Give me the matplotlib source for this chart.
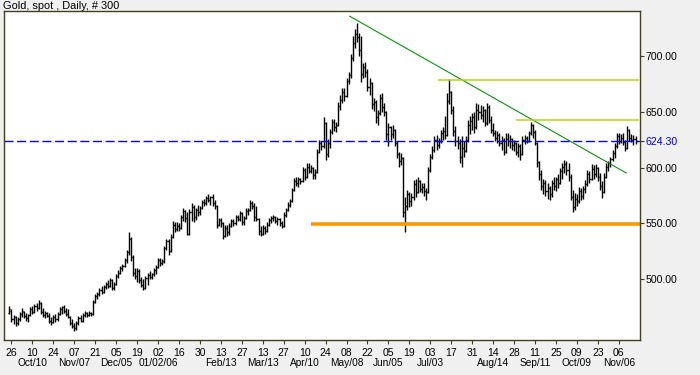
import matplotlib
matplotlib.use('Agg')

import matplotlib.pyplot as plt
import pandas as pd

plt.rcParams['font.family'] = ['Liberation Sans', 'DejaVu Sans']
plt.rcParams['lines.scale_dashes'] = False

title = 'Gold, spot , Daily, # 300'
last_date = '2006-11-16'

# daily OHLC (Sep 2005 - Nov 2006)
opens = [
    470, 472, 464, 466, 461, 464, 469, 471, 467, 465,
    468, 473, 471, 476, 474, 479, 471, 468, 470, 467,
    463, 462, 466, 464, 469, 473, 475, 472, 469, 466,
    461, 458, 456, 461, 465, 463, 468, 470, 468, 470,
    469, 480, 485, 487, 490, 489, 493, 496, 494, 499,
    492, 496, 503, 506, 510, 512, 517, 524, 536, 520,
    506, 503, 507, 499, 495, 492, 501, 504, 502, 505,
    508, 511, 517, 515, 516, 528, 534, 525, 538, 549,
    545, 548, 546, 556, 561, 555, 541, 560, 565, 556,
    562, 560, 564, 569, 568, 573, 571, 574, 568, 566,
    549, 553, 550, 539, 546, 542, 548, 552, 550, 556,
    554, 559, 551, 555, 561, 562, 568, 566, 556, 554,
    543, 541, 546, 543, 549, 553, 555, 556, 552, 554,
    550, 548, 558, 562, 567, 570, 580, 588, 586, 590,
    588, 598, 592, 601, 597, 600, 593, 596, 614, 622,
    619, 640, 612, 622, 632, 641, 636, 638, 655, 661,
    668, 664, 678, 683, 698, 712, 720, 717, 705, 684,
    690, 686, 672, 676, 657, 659, 645, 649, 662, 654,
    650, 630, 636, 630, 634, 622, 612, 606, 609, 560,
    566, 576, 570, 574, 585, 578, 588, 581, 583, 579,
    578, 598, 610, 616, 625, 620, 624, 631, 633, 629,
    660, 668, 652, 633, 624, 622, 610, 618, 615, 625,
    638, 642, 645, 636, 652, 650, 647, 652, 640, 654,
    643, 634, 631, 627, 629, 622, 625, 614, 626, 624,
    626, 620, 622, 614, 619, 612, 625, 627, 624, 631,
    638, 632, 622, 605, 594, 584, 586, 579, 582, 576,
    586, 584, 590, 586, 597, 601, 603, 598, 592, 574,
    565, 572, 570, 579, 575, 581, 585, 594, 590, 599,
    594, 600, 592, 584, 578, 592, 601, 604, 608, 613,
    619, 628, 624, 627, 623, 618, 634, 627, 625, 626,
]
highs = [
    476, 473, 468, 467, 466, 471, 474, 472, 470, 469,
    475, 476, 478, 479, 481, 480, 474, 472, 471, 470,
    466, 468, 469, 471, 475, 476, 477, 474, 473, 467,
    464, 461, 463, 467, 468, 470, 472, 471, 472, 471,
    481, 487, 489, 492, 494, 495, 498, 499, 501, 500,
    498, 505, 508, 512, 514, 519, 526, 542, 538, 522,
    510, 510, 509, 502, 500, 503, 506, 507, 506, 510,
    513, 519, 519, 518, 530, 536, 536, 541, 552, 551,
    551, 550, 558, 564, 562, 560, 563, 568, 567, 564,
    567, 566, 571, 572, 575, 576, 575, 576, 571, 567,
    555, 555, 551, 549, 549, 550, 554, 554, 558, 558,
    561, 560, 557, 564, 564, 571, 570, 568, 566, 555,
    548, 549, 548, 551, 555, 557, 558, 557, 556, 555,
    552, 560, 564, 569, 572, 582, 591, 592, 592, 591,
    601, 600, 604, 604, 602, 601, 599, 617, 625, 624,
    645, 641, 626, 635, 644, 644, 641, 659, 665, 671,
    671, 680, 686, 702, 718, 724, 730, 721, 718, 694,
    695, 688, 680, 677, 662, 661, 652, 666, 667, 658,
    651, 640, 637, 638, 635, 624, 614, 613, 610, 574,
    580, 578, 577, 589, 590, 592, 589, 586, 586, 582,
    601, 612, 619, 628, 629, 627, 634, 636, 646, 667,
    679, 669, 655, 637, 628, 626, 628, 624, 628, 643,
    646, 649, 650, 658, 657, 656, 655, 653, 658, 656,
    646, 640, 634, 633, 631, 628, 627, 631, 631, 629,
    627, 625, 623, 622, 621, 628, 629, 628, 633, 641,
    639, 634, 623, 606, 598, 590, 589, 586, 584, 589,
    592, 592, 594, 600, 604, 607, 606, 604, 594, 580,
    577, 576, 583, 582, 584, 589, 598, 597, 603, 602,
    603, 601, 595, 588, 595, 604, 606, 610, 616, 622,
    631, 631, 630, 631, 625, 637, 635, 630, 629, 628,
]
lows = [
    469, 462, 460, 458, 459, 463, 466, 465, 463, 462,
    467, 469, 470, 472, 473, 469, 466, 465, 466, 461,
    459, 461, 462, 463, 468, 469, 470, 467, 465, 459,
    456, 454, 455, 459, 462, 462, 466, 466, 467, 467,
    468, 479, 482, 485, 487, 488, 491, 492, 493, 490,
    490, 495, 501, 505, 507, 511, 515, 522, 516, 503,
    500, 498, 497, 493, 490, 491, 495, 500, 500, 503,
    505, 510, 512, 513, 515, 526, 522, 524, 537, 542,
    543, 543, 545, 552, 551, 540, 540, 552, 551, 553,
    557, 558, 563, 566, 567, 569, 567, 566, 563, 546,
    548, 547, 536, 538, 539, 540, 547, 548, 549, 552,
    552, 549, 549, 554, 558, 561, 563, 552, 552, 540,
    539, 540, 541, 542, 548, 550, 552, 550, 549, 548,
    546, 547, 556, 561, 565, 569, 579, 584, 583, 585,
    587, 589, 591, 595, 595, 590, 590, 595, 613, 616,
    618, 607, 610, 618, 630, 633, 632, 637, 652, 658,
    660, 663, 675, 680, 696, 707, 713, 700, 677, 680,
    681, 669, 665, 653, 651, 640, 638, 647, 650, 646,
    625, 619, 625, 627, 619, 609, 601, 602, 556, 542,
    562, 565, 566, 571, 574, 577, 578, 577, 575, 571,
    577, 596, 608, 614, 616, 618, 622, 625, 626, 628,
    657, 648, 628, 619, 617, 604, 601, 610, 614, 623,
    630, 634, 631, 635, 643, 644, 641, 637, 638, 640,
    631, 628, 624, 622, 619, 616, 611, 613, 619, 618,
    616, 615, 611, 610, 607, 611, 621, 622, 623, 629,
    627, 620, 601, 589, 580, 576, 575, 572, 571, 574,
    580, 579, 582, 585, 590, 595, 593, 588, 571, 560,
    562, 566, 568, 571, 572, 577, 584, 586, 589, 590,
    592, 588, 580, 573, 577, 591, 597, 601, 606, 609,
    618, 621, 622, 620, 615, 617, 624, 623, 620, 621,
]
closes = [
    473, 464, 466, 461, 464, 469, 472, 467, 465, 468,
    473, 471, 476, 474, 479, 471, 468, 470, 467, 463,
    462, 466, 464, 469, 473, 475, 472, 469, 466, 461,
    458, 456, 461, 465, 463, 468, 470, 468, 470, 469,
    480, 485, 487, 490, 489, 493, 496, 494, 499, 492,
    496, 503, 506, 510, 512, 517, 524, 536, 520, 506,
    503, 507, 499, 495, 492, 501, 504, 502, 505, 508,
    511, 517, 515, 516, 528, 534, 525, 538, 549, 545,
    548, 546, 556, 561, 555, 541, 560, 565, 556, 562,
    560, 564, 569, 568, 573, 571, 574, 568, 566, 549,
    553, 550, 539, 546, 542, 548, 552, 550, 556, 554,
    559, 551, 555, 561, 562, 568, 566, 556, 554, 543,
    541, 546, 543, 549, 553, 555, 556, 552, 554, 550,
    548, 558, 562, 567, 570, 580, 588, 586, 590, 588,
    598, 592, 601, 597, 600, 593, 596, 614, 622, 619,
    640, 612, 622, 632, 641, 636, 638, 655, 661, 668,
    664, 678, 683, 698, 712, 720, 717, 705, 684, 690,
    686, 672, 676, 657, 659, 645, 649, 662, 654, 650,
    630, 636, 630, 634, 622, 612, 606, 609, 560, 566,
    576, 570, 574, 585, 578, 588, 581, 583, 579, 578,
    598, 610, 616, 625, 620, 624, 631, 633, 629, 660,
    668, 652, 633, 624, 622, 610, 618, 615, 625, 638,
    642, 645, 636, 652, 650, 647, 652, 640, 654, 643,
    634, 631, 627, 629, 622, 625, 614, 626, 624, 626,
    620, 622, 614, 619, 612, 625, 627, 624, 631, 638,
    632, 622, 605, 594, 584, 586, 579, 582, 576, 586,
    584, 590, 586, 597, 601, 603, 598, 592, 574, 565,
    572, 570, 579, 575, 581, 585, 594, 590, 599, 594,
    600, 592, 584, 578, 592, 601, 604, 608, 613, 619,
    628, 624, 627, 623, 618, 634, 627, 625, 626, 624.3,
]

# x axis ticks (every second Monday) and their two label rows
tick_dates = ['2005-09-26', '2005-10-10', '2005-10-24', '2005-11-07', '2005-11-21',
              '2005-12-05', '2005-12-19', '2006-01-02', '2006-01-16', '2006-01-30',
              '2006-02-13', '2006-02-27', '2006-03-13', '2006-03-27', '2006-04-10',
              '2006-04-24', '2006-05-08', '2006-05-22', '2006-06-05', '2006-06-19',
              '2006-07-03', '2006-07-17', '2006-07-31', '2006-08-14', '2006-08-28',
              '2006-09-11', '2006-09-25', '2006-10-09', '2006-10-23', '2006-11-06']
day_labels = ['26', '10', '24', '07', '21', '05', '19', '02', '16', '30',
              '13', '27', '13', '27', '10', '24', '08', '22', '05', '19',
              '03', '17', '31', '14', '28', '11', '25', '09', '23', '06']
month_labels = ['', 'Oct/10', '', 'Nov/07', '', 'Dec/05', '', '01/02/06', '', '',
                'Feb/13', '', 'Mar/13', '', 'Apr/10', '', 'May/08', '', 'Jun/05', '',
                'Jul/03', '', '', 'Aug/14', '', 'Sep/11', '', 'Oct/09', '', 'Nov/06']
price_ticks = [500, 550, 600, 650, 700]

# drawn studies: (bar index, price)
trend_line = ([162.5, 294.5], [735.7, 595.3])
resistance = [(204.5, 678.3), (242.0, 642.6)]
support = (144.2, 549.7)

dates = pd.bdate_range(end=last_date, periods=len(closes))
idx = list(range(len(closes)))
last = closes[-1]

fig = plt.figure(figsize=(7, 3.75), dpi=100, facecolor='#f0f0f0')
ax = fig.add_axes([0.0062, 0.0933, 0.9086, 0.8787])
ax.set_facecolor('white')

x_max = 301.3
ax.set_xlim(-2.4, x_max)
ax.set_ylim(445.6, 740.8)

# OHLC bars
ax.vlines(idx, lows, highs, color='black', lw=1.0)
ax.hlines(opens, [i - 0.5 for i in idx], idx, color='black', lw=1.0)
ax.hlines(closes, idx, [i + 0.5 for i in idx], color='black', lw=1.0)

# studies
ax.plot(trend_line[0], trend_line[1], color='#109010', lw=0.8)
for start, level in resistance:
    ax.hlines(level, start, x_max - 0.6, color='#b4d414', lw=1.1)
ax.hlines(support[1], support[0], x_max, color='#ff9900', lw=2.6)
ax.axhline(last, color='#0000ff', lw=1.0, dashes=[6.5, 2.6])

spine_col = '#404020'
for s in ax.spines.values():
    s.set_color(spine_col)
    s.set_linewidth(1.0)

tick_pos = dates.get_indexer(pd.to_datetime(tick_dates))
ax.set_xticks(tick_pos)
ax.set_xticklabels(day_labels, fontsize=7.5)
ax.tick_params(axis='x', direction='out', length=3, width=0.8, color=spine_col, pad=2.5)
for pos, lab in zip(tick_pos, month_labels):
    if lab:
        ax.text(pos, -0.070, lab, transform=ax.get_xaxis_transform(),
                ha='center', va='center', fontsize=7.3)

ax.yaxis.tick_right()
ax.set_yticks(price_ticks + [last])
ax.set_yticklabels(['%.2f' % p for p in price_ticks] + ['%.2f' % last], fontsize=7.6)
ax.tick_params(axis='y', direction='out', length=3, width=0.8, color=spine_col, pad=0.5)
ax.get_yticklabels()[-1].set_color('#0000ff')
ax.yaxis.get_major_ticks()[-1].tick2line.set_color('#0000ff')

fig.text(0.004, 0.997, title, fontsize=7.9, ha='left', va='top')

fig.savefig('out.png', dpi=100, facecolor=fig.get_facecolor())
